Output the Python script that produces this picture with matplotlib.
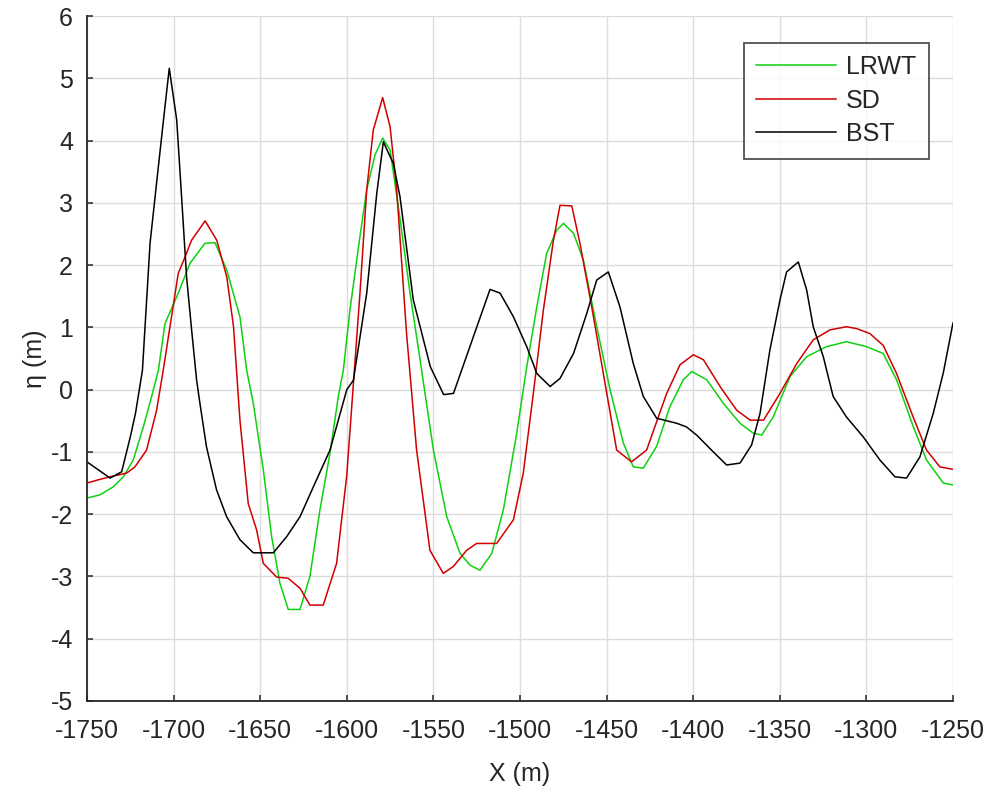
import matplotlib
matplotlib.use("Agg")
import matplotlib.pyplot as plt

plt.rcParams['font.family'] = ['Liberation Sans', 'DejaVu Sans']
plt.rcParams['axes.unicode_minus'] = False

# LRWT solution
x_lrwt = [-1750, -1742.5, -1734.8, -1729, -1723.3, -1717.5, -1712.7, -1708.8, -1705, -1698.2,
          -1690.5, -1681.9, -1676.1, -1669.3, -1661.7, -1657.8, -1654, -1648.2, -1643.4, -1638.6,
          -1633.8, -1627, -1621.3, -1615.5, -1609.7, -1604.9, -1602, -1598.2, -1592.4, -1588.5,
          -1583.7, -1579.3, -1575, -1569.3, -1563.5, -1557.7, -1550, -1542.3, -1534.6, -1528.8,
          -1523.1, -1516.3, -1509.6, -1501.9, -1496.1, -1490.3, -1484.6, -1478.8, -1474.9, -1469.1,
          -1463.4, -1455.7, -1448, -1440.3, -1434.6, -1428.8, -1421.1, -1413.4, -1405.7, -1400.8,
          -1392.2, -1382.6, -1373, -1365.3, -1360.5, -1353.8, -1344.1, -1334.5, -1323, -1311.5,
          -1299.9, -1290.3, -1282.6, -1273, -1265.3, -1255.6, -1250]
eta_lrwt = [-1.74, -1.69, -1.56, -1.40, -1.13, -0.60, -0.11, 0.31, 1.06, 1.49,
            2.03, 2.35, 2.36, 1.92, 1.17, 0.31, -0.22, -1.29, -2.36, -3.11,
            -3.53, -3.53, -3.00, -1.93, -1.02, -0.11, 0.31, 1.28, 2.46, 3.21,
            3.77, 4.04, 3.85, 2.75, 1.55, 0.48, -0.97, -2.04, -2.63, -2.82,
            -2.90, -2.63, -1.93, -0.70, 0.37, 1.33, 2.19, 2.56, 2.67, 2.51,
            2.08, 1.01, 0.00, -0.86, -1.24, -1.26, -0.91, -0.27, 0.16, 0.29,
            0.16, -0.22, -0.54, -0.70, -0.73, -0.44, 0.21, 0.53, 0.69, 0.77,
            0.69, 0.58, 0.16, -0.59, -1.13, -1.50, -1.53]

# SD solution
x_sd = [-1750, -1742.5, -1736.7, -1727.1, -1722.3, -1715.6, -1709.8, -1706, -1702.1, -1697.3,
        -1693.4, -1689.6, -1681.8, -1675.1, -1669.3, -1665.4, -1661.7, -1656.9, -1652.1, -1648.2,
        -1640.5, -1633.8, -1627, -1621.3, -1613.6, -1605.9, -1600.1, -1597.3, -1592.4, -1588.5,
        -1584.7, -1579.3, -1575, -1571.2, -1565.5, -1559.7, -1552, -1544.3, -1538.5, -1530.8,
        -1525, -1513.5, -1503.8, -1498.1, -1492.3, -1486.5, -1480.7, -1476.9, -1470.1, -1465.4,
        -1458.6, -1451.9, -1444.2, -1435.6, -1426.9, -1415.3, -1407.6, -1399.9, -1394.1, -1384.5,
        -1374.9, -1367.1, -1359.4, -1349.9, -1340.2, -1330.7, -1321, -1311.5, -1305.6, -1298,
        -1290.3, -1282.6, -1273, -1265.3, -1257.6, -1250]
eta_sd = [-1.50, -1.44, -1.40, -1.34, -1.24, -0.97, -0.33, 0.31, 1.01, 1.87,
          2.13, 2.40, 2.71, 2.40, 1.81, 1.01, -0.49, -1.83, -2.25, -2.79,
          -3.01, -3.03, -3.19, -3.46, -3.46, -2.79, -1.40, -0.33, 1.55, 3.21,
          4.17, 4.69, 4.22, 3.21, 0.90, -0.97, -2.58, -2.95, -2.84, -2.58,
          -2.47, -2.47, -2.09, -1.34, -0.06, 1.28, 2.40, 2.96, 2.95, 2.35,
          1.33, 0.26, -0.97, -1.16, -0.97, -0.06, 0.40, 0.56, 0.48, 0.05,
          -0.33, -0.49, -0.49, -0.06, 0.42, 0.80, 0.96, 1.01, 0.98, 0.90,
          0.71, 0.26, -0.44, -0.97, -1.24, -1.28]

# BST solution
x_bst = [-1750, -1736.7, -1730, -1725, -1722, -1718, -1713.6, -1708.8, -1705, -1702.5,
         -1698.2, -1695.4, -1692.5, -1689.6, -1686.7, -1684.8, -1681, -1675.2, -1669.4, -1661.7,
         -1654, -1642.4, -1634.7, -1627, -1619.3, -1609.7, -1600, -1596.2, -1588.5, -1582.7,
         -1578.9, -1573.1, -1569.3, -1561.6, -1551.8, -1544.1, -1538.4, -1524.9, -1517.3, -1511.5,
         -1503.8, -1496.1, -1490.3, -1482.6, -1476.9, -1469.1, -1461.5, -1455.7, -1449, -1442.3,
         -1434.6, -1428.8, -1421.1, -1409.5, -1403.8, -1398, -1388.4, -1380.7, -1373, -1366.3,
         -1361.4, -1355.7, -1349.9, -1346.1, -1339.3, -1334.5, -1330.7, -1324.9, -1319.2, -1311.5,
         -1301.8, -1292.2, -1283.5, -1276.8, -1269.1, -1261.4, -1255.6, -1250]
eta_bst = [-1.16, -1.42, -1.32, -0.76, -0.38, 0.31, 2.35, 3.58, 4.54, 5.16,
           4.33, 3.10, 1.81, 0.96, 0.15, -0.22, -0.92, -1.61, -2.04, -2.41,
           -2.62, -2.62, -2.36, -2.04, -1.56, -0.97, 0.00, 0.15, 1.55, 3.15,
           3.98, 3.63, 3.10, 1.44, 0.37, -0.08, -0.06, 1.01, 1.61, 1.55,
           1.17, 0.69, 0.26, 0.05, 0.18, 0.58, 1.22, 1.76, 1.89, 1.33,
           0.42, -0.11, -0.46, -0.54, -0.60, -0.73, -1.00, -1.21, -1.18, -0.89,
           -0.38, 0.64, 1.44, 1.89, 2.05, 1.60, 1.01, 0.53, -0.11, -0.44,
           -0.76, -1.13, -1.40, -1.42, -1.08, -0.38, 0.27, 1.07]

xticks = list(range(-1750, -1249, 50))
yticks = list(range(-5, 7))

fig = plt.figure(figsize=(9.95, 7.96), dpi=100)
ax = fig.add_axes([87 / 995, 95 / 796, 866 / 995, 685 / 796])

ax.plot(x_lrwt, eta_lrwt, color='#10d010', lw=1.1, label='LRWT')
ax.plot(x_sd, eta_sd, color='#d00000', lw=1.1, label='SD')
ax.plot(x_bst, eta_bst, color='black', lw=1.1, label='BST')

ax.set_xlim(-1750, -1250)
ax.set_ylim(-5, 6)
ax.set_xticks(xticks)
ax.set_yticks(yticks)
ax.grid(True, color='#dcdcdc', lw=1.0)
ax.set_axisbelow(True)

for side in ('top', 'right'):
    ax.spines[side].set_visible(False)
for side in ('left', 'bottom'):
    ax.spines[side].set_color('#262626')
    ax.spines[side].set_linewidth(1.3)

ax.tick_params(direction='in', length=4.5, width=1.1, colors='#262626',
               labelsize=18, labelcolor='#262626')
ax.tick_params(axis='x', pad=13)
ax.tick_params(axis='y', pad=10)

ax.set_xlabel('X (m)', fontsize=18, color='#262626', labelpad=14)
ax.set_ylabel('η (m)', fontsize=18, color='#262626', labelpad=3)

leg = ax.legend(loc='upper right', bbox_to_anchor=(0.972, 0.961), borderaxespad=0,
                fontsize=18, frameon=True, fancybox=False, handlelength=3.2,
                handletextpad=0.4, labelspacing=0.38, borderpad=0.5)
leg.get_frame().set_edgecolor('#262626')
leg.get_frame().set_linewidth(1.3)
for t in leg.get_texts():
    t.set_color('#262626')

fig.savefig('out.png', dpi=100)
